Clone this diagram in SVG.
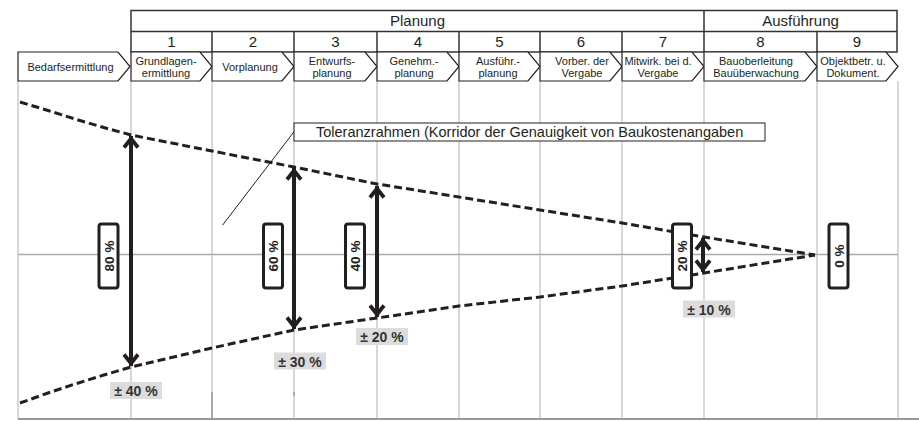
<svg xmlns="http://www.w3.org/2000/svg" width="919" height="421" viewBox="0 0 919 421">
<style>
text{font-family:"Liberation Sans",Arial,sans-serif;fill:#231f20}
.hdr{font-size:15px;text-anchor:middle}
.chev{fill:#fff;stroke:#231f20;stroke-width:1.2}
.ct{font-size:11px;text-anchor:middle}
.grid{stroke:#c4c4c4;stroke-width:1.3;fill:none}
.hl{stroke:#333;stroke-width:1.5;fill:none}
.dash{fill:none;stroke:#231f20;stroke-width:3;stroke-dasharray:8 4}
.arr{stroke:#231f20;stroke-width:4;fill:none;marker-start:url(#ah);marker-end:url(#ah)}
.pbox{fill:#fff;stroke:#231f20;stroke-width:3}
.pt{font-size:13.5px;font-weight:bold;text-anchor:middle}
.gbox{fill:#dcdcdc}
.gt{font-size:14px;font-weight:bold;text-anchor:middle;fill:#333}
</style>
<defs>
<marker id="ah" markerUnits="userSpaceOnUse" viewBox="-15 -10 20 20" markerWidth="20" markerHeight="20" refX="0" refY="0" orient="auto-start-reverse" overflow="visible">
<path d="M-11.5,-7 L-2.5,0 L-11.5,7" fill="none" stroke="#231f20" stroke-width="3.8" stroke-linejoin="miter"/>
</marker>
</defs>
<rect width="919" height="421" fill="#fff"/>
<g id="grid">
<path class="grid" d="M18,81V419M131,81V419M212,81V419M294,81V419M377,81V419M459,81V419M540,81V419M622,81V419M704,81V419M817,81V419M898,81V419"/>
<path d="M18,254.5H898" stroke="#aaa" stroke-width="1.5"/>
<path d="M18,419H919" stroke="#999" stroke-width="2"/>
<path d="M212,392V419M294,392V396" stroke="#999" stroke-width="1.5"/>
</g>
<g id="header">
<rect x="131" y="10.5" width="766" height="41.5" class="hl"/>
<path class="hl" d="M131,31.5H897M704,10.5V31.5M212,31.5V52M294,31.5V52M377,31.5V52M459,31.5V52M540,31.5V52M622,31.5V52M704,31.5V52M817,31.5V52"/>
<text class="hdr" x="417.5" y="26">Planung</text>
<text class="hdr" x="800.5" y="26">Ausführung</text>
<text class="hdr" x="171.5" y="47">1</text>
<text class="hdr" x="253" y="47">2</text>
<text class="hdr" x="335.5" y="47">3</text>
<text class="hdr" x="418" y="47">4</text>
<text class="hdr" x="499.5" y="47">5</text>
<text class="hdr" x="581" y="47">6</text>
<text class="hdr" x="663" y="47">7</text>
<text class="hdr" x="760.5" y="47">8</text>
<text class="hdr" x="857" y="47">9</text>
</g>
<g id="phase0">
<polygon class="chev" points="18,52 118,52 130,66.5 118,81 18,81"/>
<text class="ct" x="70.5" y="70.5">Bedarfsermittlung</text>
</g>
<g id="phase1">
<polygon class="chev" points="131,52 200,52 212,66.5 200,81 131,81"/>
<text class="ct" x="166" y="64.5">Grundlagen-</text><text class="ct" x="166" y="76.5">ermittlung</text>
</g>
<g id="phase2">
<polygon class="chev" points="212,52 282,52 294,66.5 282,81 212,81"/>
<text class="ct" x="250" y="70.5">Vorplanung</text>
</g>
<g id="phase3">
<polygon class="chev" points="294,52 365,52 377,66.5 365,81 294,81"/>
<text class="ct" x="332" y="64.5">Entwurfs-</text><text class="ct" x="332" y="76.5">planung</text>
</g>
<g id="phase4">
<polygon class="chev" points="377,52 447,52 459,66.5 447,81 377,81"/>
<text class="ct" x="414" y="64.5">Genehm.-</text><text class="ct" x="414" y="76.5">planung</text>
</g>
<g id="phase5">
<polygon class="chev" points="459,52 528,52 540,66.5 528,81 459,81"/>
<text class="ct" x="498" y="64.5">Ausführ.-</text><text class="ct" x="498" y="76.5">planung</text>
</g>
<g id="phase6">
<polygon class="chev" points="540,52 610,52 622,66.5 610,81 540,81"/>
<text class="ct" x="582" y="64.5">Vorber. der</text><text class="ct" x="582" y="76.5">Vergabe</text>
</g>
<g id="phase7">
<polygon class="chev" points="622,52 692,52 704,66.5 692,81 622,81"/>
<text class="ct" x="658" y="64.5">Mitwirk. bei d.</text><text class="ct" x="658" y="76.5">Vergabe</text>
</g>
<g id="phase8">
<polygon class="chev" points="704,52 805,52 817,66.5 805,81 704,81"/>
<text class="ct" x="756" y="64.5">Bauoberleitung</text><text class="ct" x="756" y="76.5">Bauüberwachung</text>
</g>
<g id="phase9">
<polygon class="chev" points="817,52 886,52 898,66.5 886,81 817,81"/>
<text class="ct" x="853" y="64.5">Objektbetr. u.</text><text class="ct" x="853" y="76.5">Dokument.</text>
</g>
<g id="connectors">
<path class="dash" d="M20,102 L48,110.5 L75,119 L103,127.3 L131,135 L212,151 L294,167 L377,184 L459,197 L540,210 L622,223 L704,237 L815,255"/>
<path class="dash" d="M20,403 L48,393 L75,384 L103,375.3 L131,367 L212,348 L294,330 L377,318 L459,306 L540,297 L622,286 L704,273 L815,255"/>
<path class="arr" d="M131,136V366"/>
<path class="arr" d="M294,168V329"/>
<path class="arr" d="M377,186V317"/>
<path class="arr" d="M703,238V272"/>
<path d="M294,131.7L222.7,225" stroke="#231f20" stroke-width="1" fill="none"/>
</g>
<g id="tolerance">
<rect x="294" y="123" width="471" height="18" fill="#fff" stroke="#231f20" stroke-width="1"/>
<text x="316" y="137" font-size="14.5">Toleranzrahmen (Korridor der Genauigkeit von Baukostenangaben</text>
</g>
<g id="p80">
<rect class="pbox" x="99" y="224" width="19" height="64" rx="2.5"/>
<text class="pt" transform="rotate(-90 108.5 256)" x="108.5" y="261">80 %</text>
</g>
<g id="p60">
<rect class="pbox" x="263.5" y="224" width="19" height="64" rx="2.5"/>
<text class="pt" transform="rotate(-90 273 256)" x="273" y="261">60 %</text>
</g>
<g id="p40">
<rect class="pbox" x="345.5" y="224" width="19" height="64" rx="2.5"/>
<text class="pt" transform="rotate(-90 355 256)" x="355" y="261">40 %</text>
</g>
<g id="p20">
<rect class="pbox" x="672.5" y="224" width="19" height="64" rx="2.5"/>
<text class="pt" transform="rotate(-90 682 256)" x="682" y="261">20 %</text>
</g>
<g id="p0">
<rect class="pbox" x="829" y="224" width="19" height="64" rx="2.5"/>
<text class="pt" transform="rotate(-90 838.5 256)" x="838.5" y="261">0 %</text>
</g>
<g id="t40">
<rect class="gbox" x="110" y="382" width="52" height="17"/>
<text class="gt" x="136" y="396">± 40 %</text>
</g>
<g id="t30">
<rect class="gbox" x="274" y="352.5" width="52" height="17"/>
<text class="gt" x="300" y="366.5">± 30 %</text>
</g>
<g id="t20">
<rect class="gbox" x="356" y="328" width="52" height="17"/>
<text class="gt" x="382" y="342">± 20 %</text>
</g>
<g id="t10">
<rect class="gbox" x="683" y="300.5" width="52" height="17"/>
<text class="gt" x="709" y="314.5">± 10 %</text>
</g>
</svg>
